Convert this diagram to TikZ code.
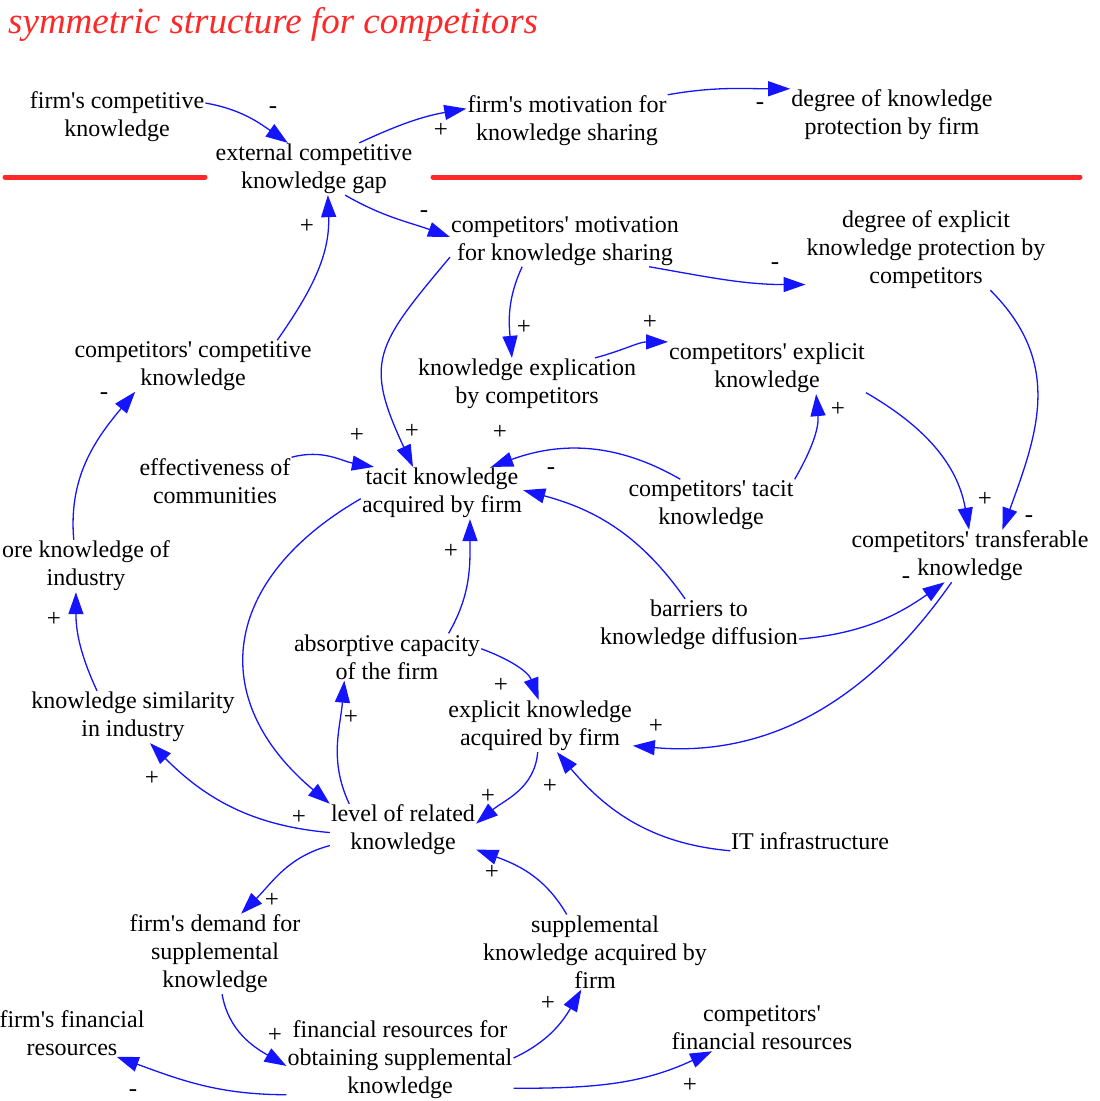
\documentclass[tikz,border=0pt]{standalone}
\usepackage{fontspec}
\newfontfamily\labelfont{Liberation Serif}
\usetikzlibrary{arrows.meta}
\definecolor{linkblue}{RGB}{20,20,255}
\definecolor{titlered}{RGB}{255,40,40}
\begin{document}
\begin{tikzpicture}[x=1pt,y=-1pt,
  var/.style={align=center,inner sep=1pt,font=\labelfont\fontsize{24}{28}\selectfont},
  sgn/.style={inner sep=0pt,font=\labelfont\fontsize{25}{28}\selectfont},
  link/.style={draw=linkblue,line width=1.3pt,-{Triangle[length=22pt,width=15pt]}},
  redrule/.style={draw=titlered,line width=5pt,line cap=round}]
\useasboundingbox (0,0) rectangle (1100,1101);

% title and the dividing rule
\node[anchor=west,inner sep=0pt,text=titlered,font=\labelfont\fontsize{37}{40}\selectfont\itshape] (title) at (8,24) {symmetric structure for competitors};
\draw[redrule] (5,177) -- (205,177);
\draw[redrule] (433,177) -- (1080,177);

% variables
\node[var] (fck) at (117,117) {firm's competitive\\knowledge};
\node[var] (ekg) at (314,169) {external competitive\\knowledge gap};
\node[var] (fms) at (567,121) {firm's motivation for\\knowledge sharing};
\node[var] (dkp) at (892,115) {degree of knowledge\\protection by firm};
\node[var] (cms) at (565,241) {competitors' motivation\\for knowledge sharing};
\node[var] (dep) at (926,250) {degree of explicit\\knowledge protection by\\competitors};
\node[var] (cck) at (193,366) {competitors' competitive\\knowledge};
\node[var] (kec) at (527,384) {knowledge explication\\by competitors};
\node[var] (cek) at (767,368) {competitors' explicit\\knowledge};
\node[var] (eoc) at (215,481) {effectiveness of\\communities};
\node[var] (tka) at (442,493) {tacit knowledge\\acquired by firm};
\node[var] (ctk) at (711,505) {competitors' tacit\\knowledge};
\node[var] (ctr) at (970,556) {competitors' transferable\\knowledge};
\node[var] (oki) at (86,566) {ore knowledge of\\industry};
\node[var] (bkd) at (699,625) {barriers to\\knowledge diffusion};
\node[var] (acf) at (387,657) {absorptive capacity\\of the firm};
\node[var] (ksi) at (133,717) {knowledge similarity\\in industry};
\node[var] (eka) at (540,726) {explicit knowledge\\acquired by firm};
\node[var] (iti) at (810,841) {IT infrastructure};
\node[var] (lrk) at (403,830) {level of related\\knowledge};
\node[var] (fds) at (215,954) {firm's demand for\\supplemental\\knowledge};
\node[var] (ska) at (595,952) {supplemental\\knowledge acquired by\\firm};
\node[var] (ffr) at (72,1033) {firm's financial\\resources};
\node[var] (frs) at (400,1060) {financial resources for\\obtaining supplemental\\knowledge};
\node[var] (cfr) at (762,1028) {competitors'\\financial resources};

% causal links
\draw[link] (fck.9) to[out=-10,in=145] (ekg.135);
\draw[link] (ekg.30) to[out=25,in=190] (fms.173);
\draw[link] (fms.north east) to[out=10,in=180] (dkp.north west);
\draw[link] (ekg.-40) to[out=-30,in=160] (cms.178);
\draw[link] (cck.17) to[out=55,in=-88] (ekg.-62);
\draw[link] (cms.-17) to[out=-10,in=180] (dep.196);
\draw[link] (cms.-149) to[out=-115,in=95] (kec.120);
\draw[link] (cms.188) to[out=-130,in=115,looseness=1.4] (tka.138);
\draw[link] (kec.21) to[out=15,in=180] (cek.north west);
\draw[link] (dep.-32) to[out=-45,in=70,looseness=1.1] (ctr.39);
\draw[link] (cek.-14) to[out=-30,in=100] (ctr.92);
\draw[link] (ctk.north east) to[out=60,in=-85] (cek.-28);
\draw[link] (ctk.140) to[out=150,in=20] (tka.28);
\draw[link] (bkd.118) to[out=125,in=-15] (tka.2);
\draw[link] (bkd.-8) to[out=5,in=-145] (ctr.-134);
\draw[link] (ctr.-125) to[out=-125,in=-5] (eka.-12);
\draw[link] (eoc.north east) to[out=15,in=170] (tka.159);
\draw[link] (tka.184) to[out=-150,in=140,looseness=1.35] (lrk.north west);
\draw[link] (acf.21) to[out=60,in=-90] (tka.-43);
\draw[link] (acf.5) to[out=-20,in=110] (eka.93);
\draw[link] (lrk.154) to[out=115,in=-95] (acf.-151);
\draw[link] (eka.-95) to[out=-95,in=40] (lrk.5);
\draw[link] (iti.187) to[out=175,in=-50] (eka.-57);
\draw[link] (oki.115) to[out=95,in=-130] (cck.-156);
\draw[link] (ksi.144) to[out=115,in=-90] (oki.-111);
\draw[link] (lrk.182) to[out=175,in=-45] (ksi.-57);
\draw[link] (lrk.-168) to[out=-165,in=45] (fds.57);
\draw[link] (ska.127) to[out=120,in=-20] (lrk.-15);
\draw[link] (fds.-80) to[out=-80,in=150] (frs.183);
\draw[link] (frs.1) to[out=25,in=-120] (ska.-110);
\draw[link] (frs.-163) to[out=180,in=-20] (ffr.-28);
\draw[link] (frs.-14) to[out=0,in=-155] (cfr.-155);

% polarity signs
\node[sgn] (s1) at (273,110) {-};
\node[sgn] (s2) at (441,130) {+};
\node[sgn] (s3) at (760,106) {-};
\node[sgn] (s4) at (424,214) {-};
\node[sgn] (s5) at (307,226) {+};
\node[sgn] (s6) at (775,266) {-};
\node[sgn] (s7) at (524,327) {+};
\node[sgn] (s8) at (412,431) {+};
\node[sgn] (s9) at (650,322) {+};
\node[sgn] (s10) at (1029,519) {-};
\node[sgn] (s11) at (985,499) {+};
\node[sgn] (s12) at (838,409) {+};
\node[sgn] (s13) at (500,432) {+};
\node[sgn] (s14) at (551,471) {-};
\node[sgn] (s15) at (906,580) {-};
\node[sgn] (s16) at (656,726) {+};
\node[sgn] (s17) at (357,435) {+};
\node[sgn] (s18) at (299,817) {+};
\node[sgn] (s19) at (451,551) {+};
\node[sgn] (s20) at (501,685) {+};
\node[sgn] (s21) at (351,717) {+};
\node[sgn] (s22) at (488,796) {+};
\node[sgn] (s23) at (550,786) {+};
\node[sgn] (s24) at (104,396) {-};
\node[sgn] (s25) at (54,619) {+};
\node[sgn] (s26) at (152,778) {+};
\node[sgn] (s27) at (272,900) {+};
\node[sgn] (s28) at (492,872) {+};
\node[sgn] (s29) at (275,1035) {+};
\node[sgn] (s30) at (548,1003) {+};
\node[sgn] (s31) at (133,1093) {-};
\node[sgn] (s32) at (690,1085) {+};
\end{tikzpicture}
\end{document}
